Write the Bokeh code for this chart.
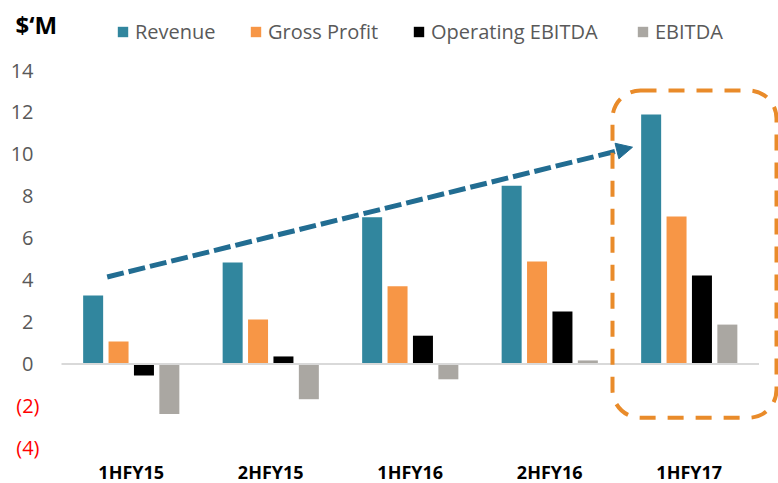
from bokeh.plotting import figure
from bokeh.models import (ColumnDataSource, FixedTicker, Legend, LegendItem, Label,
                          Arrow, NormalHead, BoxAnnotation, Range1d)
from bokeh.embed import file_html
from bokeh.resources import INLINE

# ---- data ----
categories = ["1HFY15", "2HFY15", "1HFY16", "2HFY16", "1HFY17"]
revenue = [3.27, 4.84, 7.0, 8.5, 11.9]
gross_profit = [1.07, 2.12, 3.71, 4.89, 7.04]
operating_ebitda = [-0.55, 0.36, 1.35, 2.50, 4.22]
ebitda = [-2.38, -1.68, -0.73, 0.17, 1.88]
series_names = ["Revenue", "Gross Profit", "Operating EBITDA", "EBITDA"]
pos_ticks = [0, 2, 4, 6, 8, 10, 12, 14]
neg_ticks = [-2, -4]
unit_label = "$\u2018M"

# ---- style ----
colors = ["#31869E", "#F79646", "#000000", "#AAA7A2"]
FONT = "Open Sans"
W, H = 778, 483            # canvas = frame
CAT_PX = 139.5             # px per category
Y_PX = 20.96               # px per unit
X0_PX = 61                 # canvas-left to first category edge
Y0_PX = 363.5              # canvas top to zero line
legend_x = [116, 249, 412, 636]   # legend entry positions (px)

def px_to_x(px):
    return (px - X0_PX) / CAT_PX

def px_to_y(py):
    return (Y0_PX - py) / Y_PX

p = figure(width=W, height=H, output_backend="svg", toolbar_location=None,
           x_range=Range1d(px_to_x(0), px_to_x(W)), y_range=Range1d(px_to_y(H), px_to_y(0)),
           min_border_left=0, min_border_right=0, min_border_top=0, min_border_bottom=0)
p.outline_line_color = None
p.xgrid.visible = False
p.ygrid.visible = False
p.background_fill_color = "white"
p.border_fill_color = "white"

bar_w = 20 / CAT_PX
step = 25.4 / CAT_PX
all_series = [revenue, gross_profit, operating_ebitda, ebitda]
renderers = []
for k, (vals, col) in enumerate(zip(all_series, colors)):
    xs = [i + 0.5 + (k - 1.5) * step for i in range(len(categories))]
    src = ColumnDataSource(dict(x=xs, top=vals, cat=categories))
    r = p.vbar(x="x", top="top", bottom=0, width=bar_w, source=src,
               fill_color=col, line_color=None)
    renderers.append(r)

# zero line
p.line(x=[0, len(categories)], y=[0, 0], line_color="#D9D9D9", line_width=2)

# axes (drawn at fixed locations inside the canvas)
p.yaxis.fixed_location = px_to_x(45)
p.yaxis.ticker = FixedTicker(ticks=pos_ticks)
p.yaxis.axis_line_color = None
p.yaxis.major_tick_line_color = None
p.yaxis.minor_tick_line_color = None
p.yaxis.major_label_standoff = 6
p.yaxis.major_label_text_font = FONT
p.yaxis.major_label_text_font_size = "20px"
p.yaxis.major_label_text_color = "#595959"

p.xaxis.fixed_location = px_to_y(447)
p.xaxis.ticker = FixedTicker(ticks=[i + 0.5 for i in range(len(categories))])
p.xaxis.major_label_overrides = {i + 0.5: c for i, c in enumerate(categories)}
p.xaxis.axis_line_color = None
p.xaxis.major_tick_line_color = None
p.xaxis.minor_tick_line_color = None
p.xaxis.major_label_standoff = 6
p.xaxis.major_label_text_font = FONT
p.xaxis.major_label_text_font_style = "bold"
p.xaxis.major_label_text_font_size = "18px"
p.xaxis.major_label_text_color = "#000000"

# negative tick labels in red
for t in neg_ticks:
    p.add_layout(Label(x=39, x_units="screen", y=t, y_units="data",
                       text="(%d)" % abs(t), text_align="right", text_baseline="middle",
                       text_font=FONT, text_font_size="20px", text_color="#FF0000"))

# unit label
p.add_layout(Label(x=15, x_units="screen", y=px_to_y(24), y_units="data",
                   text=unit_label, text_align="left", text_baseline="middle",
                   text_font=FONT, text_font_size="24px", text_font_style="bold",
                   text_color="#000000"))

# trend arrow
p.add_layout(Arrow(x_start=px_to_x(106.7), y_start=px_to_y(276.5),
                   x_end=px_to_x(632), y_end=px_to_y(146.7),
                   line_color="#226D92", line_width=5, line_dash="17 5",
                   end=NormalHead(size=16, fill_color="#226D92", line_color="#226D92")))

# highlight box
p.add_layout(BoxAnnotation(left=px_to_x(612), right=px_to_x(776),
                           top=px_to_y(90), bottom=px_to_y(417.3),
                           fill_alpha=0, line_alpha=1, line_color="#E98B2A", line_width=4,
                           line_dash="16 12", border_radius=28))

# legend entries
for name, r, lx in zip(series_names, renderers, legend_x):
    lg = Legend(items=[LegendItem(label=name, renderers=[r])],
                orientation="horizontal", location=(lx, H - 45),
                glyph_width=13, glyph_height=13, label_standoff=6, spacing=0,
                padding=0, margin=0, border_line_color=None, background_fill_alpha=0,
                label_text_font=FONT, label_text_font_size="20px", label_text_color="#595959")
    p.add_layout(lg)

open("out.html", "w").write(file_html(p, INLINE))
